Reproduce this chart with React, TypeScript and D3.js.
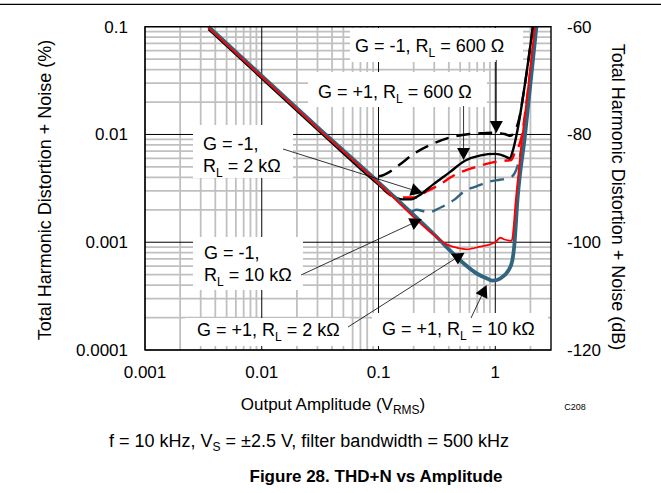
import React from "react";
import * as d3 from "d3";

// ---------- data ----------
const xTicks = [0.001, 0.01, 0.1, 1];
const xTickLabels = ["0.001", "0.01", "0.1", "1"];
const yTicks = [0.0001, 0.001, 0.01, 0.1];
const yTickLabels = ["0.0001", "0.001", "0.01", "0.1"];
const dbTicks = [-120, -100, -80, -60];
const dbTickLabels = ["-120", "-100", "-80", "-60"];

// G = +1, RL = 10 kΩ (solid blue)
const ampP1_10k = [0.0035, 0.01, 0.03, 0.1, 0.3, 0.5, 0.7, 0.85, 0.95, 1.1, 1.3, 1.4, 1.45, 1.55, 1.8, 2.25];
const thdP1_10k = [0.1, 0.035, 0.0117, 0.0036, 0.00118, 0.00068, 0.00051, 0.00046, 0.00044, 0.00046, 0.00055, 0.00068, 0.0009, 0.0025, 0.01, 0.1];

// G = +1, RL = 2 kΩ (solid red)
const ampP1_2k = [0.0035, 0.01, 0.03, 0.1, 0.3, 0.38, 0.45, 0.57, 0.74, 1.0, 1.1, 1.2, 1.37, 1.4, 1.5, 1.65, 1.85, 2.18];
const thdP1_2k = [0.098, 0.0343, 0.01147, 0.00353, 0.00116, 0.00096, 0.0009, 0.00086, 0.00091, 0.001, 0.0011, 0.00106, 0.00103, 0.00108, 0.0025, 0.007, 0.02, 0.1];

// G = +1, RL = 600 Ω (solid black)
const ampP1_600 = [0.0035, 0.01, 0.03, 0.1, 0.13, 0.16, 0.19, 0.22, 0.3, 0.4, 0.55, 0.75, 1.0, 1.2, 1.33, 1.42, 1.55, 1.8, 2.1];
const thdP1_600 = [0.095, 0.0332, 0.0111, 0.00342, 0.0027, 0.0025, 0.0025, 0.0027, 0.0035, 0.0044, 0.0057, 0.0064, 0.0066, 0.0063, 0.006, 0.0072, 0.011, 0.03, 0.1];

// G = -1, RL = 600 Ω (dashed black)
const ampM1_600 = [0.07, 0.09, 0.1, 0.12, 0.15, 0.2, 0.3, 0.4, 0.6, 0.8, 1.0, 1.2, 1.35, 1.45, 1.6, 1.8, 2.1];
const thdM1_600 = [0.005, 0.0041, 0.0041, 0.0044, 0.0052, 0.0066, 0.0083, 0.0093, 0.0101, 0.0103, 0.0104, 0.0101, 0.0097, 0.0105, 0.014, 0.03, 0.1];

// G = -1, RL = 2 kΩ (dashed red)
const ampM1_2k = [0.11, 0.13, 0.16, 0.21, 0.25, 0.33, 0.43, 0.57, 0.69, 0.95, 1.2, 1.37, 1.47, 1.66, 1.9, 2.2];
const thdM1_2k = [0.0031, 0.0027, 0.0026, 0.0026, 0.0029, 0.0034, 0.0041, 0.0047, 0.005, 0.0055, 0.0057, 0.0058, 0.0068, 0.009, 0.025, 0.1];

// G = -1, RL = 10 kΩ (dashed blue)
const ampM1_10k = [0.19, 0.21, 0.27, 0.34, 0.45, 0.55, 0.69, 0.89, 1.1, 1.24, 1.4, 1.5, 1.7, 2.0, 2.25];
const thdM1_10k = [0.0019, 0.002, 0.0019, 0.0021, 0.0025, 0.003, 0.0033, 0.00365, 0.0038, 0.0039, 0.0041, 0.0046, 0.008, 0.03, 0.1];

const BLUE = "#31657f";
const RED = "#ff0000";
const BLACK = "#000000";

const FONT = "Arial, 'Liberation Sans', Helvetica, sans-serif";

const W = 661;
const H = 493;
const PL = 145, PR = 551, PT = 26.7, PB = 350;

const x = d3.scaleLog().domain([0.001, 3]).range([PL, PR]);
const y = d3.scaleLog().domain([0.0001, 0.1]).range([PB, PT]);
const yDb = d3.scaleLinear().domain([-120, -60]).range([PB, PT]);

type Pt = [number, number];
const zip = (a: number[], b: number[]): Pt[] => a.map((v, i) => [v, b[i]]);

const line = d3
  .line<Pt>()
  .x((d) => x(d[0]))
  .y((d) => y(d[1]))
  .curve(d3.curveMonotoneX);

const series = [
  { data: zip(ampM1_600, thdM1_600), color: BLACK, width: 2.4, dash: "14,8" },
  { data: zip(ampM1_2k, thdM1_2k), color: RED, width: 2.4, dash: "14,8" },
  { data: zip(ampM1_10k, thdM1_10k), color: BLUE, width: 2.4, dash: "14,8" },
  { data: zip(ampP1_600, thdP1_600), color: BLACK, width: 2.4, dash: null },
  { data: zip(ampP1_10k, thdP1_10k), color: BLUE, width: 3.8, dash: null },
  { data: zip(ampP1_2k, thdP1_2k), color: RED, width: 1.8, dash: null },
];

// minor grid values
const decadesX = [0.001, 0.01, 0.1, 1];
const minorX: number[] = [];
decadesX.forEach((d) => {
  for (let k = 2; k <= 9; k++) {
    const v = d * k;
    if (v < 3) minorX.push(v);
  }
});
const decadesY = [0.0001, 0.001, 0.01];
const minorY: number[] = [];
decadesY.forEach((d) => {
  for (let k = 2; k <= 9; k++) minorY.push(d * k);
});

function Arrow({ x1, y1, tx, ty }: { x1: number; y1: number; tx: number; ty: number }) {
  const X = x(tx);
  const Y = y(ty);
  const dx = X - x1;
  const dy = Y - y1;
  const len = Math.hypot(dx, dy);
  const ux = dx / len, uy = dy / len;
  const L = 12, Wd = 6.5;
  const bx = X - ux * L, by = Y - uy * L;
  const p = [
    [X, Y],
    [bx - uy * Wd, by + ux * Wd],
    [bx + uy * Wd, by - ux * Wd],
  ];
  return (
    <g>
      <line x1={x1} y1={y1} x2={bx} y2={by} stroke="#000" strokeWidth={0.8} />
      <polygon points={p.map((q) => q.join(",")).join(" ")} fill="#000" />
    </g>
  );
}

function Label({ g, rl, px, py }: { g: string; rl: string; px: number; py: number }) {
  return (
    <text x={px} y={py} fontSize={18} fontFamily={FONT} fill="#000">
      {g}, R
      <tspan fontSize={12} dy={5}>L</tspan>
      <tspan dy={-5}> = {rl}</tspan>
    </text>
  );
}

function Label2({ g, rl, px, py }: { g: string; rl: string; px: number; py: number }) {
  return (
    <text x={px} y={py} fontSize={18} fontFamily={FONT} fill="#000">
      <tspan x={px}>{g},</tspan>
      <tspan x={px} dy={22}>R</tspan>
      <tspan fontSize={12} dy={5}>L</tspan>
      <tspan dy={-5}> = {rl}</tspan>
    </text>
  );
}

export default function App() {
  return (
    <svg
      width={W}
      height={H}
      viewBox={`0 0 ${W} ${H}`}
      style={{ position: "absolute", left: 0, top: 0, background: "#fff" }}
    >
      <rect x={0} y={0} width={W} height={H} fill="#fff" />
      <line x1={0} x2={W} y1={4.3} y2={4.3} stroke="#000" strokeWidth={1.3} />

      {/* minor grid */}
      {minorX.map((v, i) => (
        <line key={"mx" + i} x1={x(v)} x2={x(v)} y1={PT} y2={PB} stroke="#c0c0c0" strokeWidth={1.8} />
      ))}
      {minorY.map((v, i) => (
        <line key={"my" + i} x1={PL} x2={PR} y1={y(v)} y2={y(v)} stroke="#c0c0c0" strokeWidth={1.8} />
      ))}
      {/* major grid */}
      {xTicks.map((v, i) => (
        <line key={"Mx" + i} x1={x(v)} x2={x(v)} y1={PT} y2={PB} stroke="#000" strokeWidth={1} />
      ))}
      {yTicks.map((v, i) => (
        <line key={"My" + i} x1={PL} x2={PR} y1={y(v)} y2={y(v)} stroke="#000" strokeWidth={1} />
      ))}

      {/* label boxes (cover grid) */}
      <rect x={350} y={28} width={173} height={34} fill="#fff" />
      <rect x={308} y={72} width={179} height={35} fill="#fff" />
      <rect x={193} y={125} width={100} height={53} fill="#fff" />
      <rect x={193} y={237} width={110} height={53} fill="#fff" />
      <rect x={185} y={318} width={165} height={28} fill="#fff" />
      <rect x={372} y={313} width={176} height={33} fill="#fff" />

      {/* curves */}
      {series.map((s, i) => (
        <path
          key={"s" + i}
          d={line(s.data) || ""}
          fill="none"
          stroke={s.color}
          strokeWidth={s.width}
          strokeDasharray={s.dash || undefined}
          strokeLinejoin="round"
        />
      ))}

      {/* plot frame */}
      <rect x={PL} y={PT} width={PR - PL} height={PB - PT} fill="none" stroke="#000" strokeWidth={1.4} />

      {/* annotations */}
      <Label g="G = -1" rl="600 Ω" px={355} py={52} />
      <Arrow x1={x(1.02)} y1={60} tx={1.02} ty={0.0103} />
      <Label g="G = +1" rl="600 Ω" px={318} py={98} />
      <Arrow x1={x(0.535)} y1={106} tx={0.535} ty={0.0058} />
      <Label2 g="G = -1" rl="2 kΩ" px={203} py={150} />
      <Arrow x1={283} y1={149} tx={0.239} ty={0.00286} />
      <Label2 g="G = -1" rl="10 kΩ" px={204} py={259} />
      <Arrow x1={301} y1={275} tx={0.235} ty={0.00164} />
      <Label g="G = +1" rl="2 kΩ" px={197} py={336} />
      <Arrow x1={348} y1={327} tx={0.546} ty={0.0008} />
      <Label g="G = +1" rl="10 kΩ" px={382} py={335} />
      <Arrow x1={471} y1={318} tx={0.843} ty={0.0004} />

      {/* left ticks */}
      {yTicks.map((v, i) => (
        <text key={"yl" + i} x={128} y={y(v) + 6} textAnchor="end" fontSize={17} fontFamily={FONT}>
          {yTickLabels[i]}
        </text>
      ))}
      {/* right ticks */}
      {dbTicks.map((v, i) => (
        <text key={"dl" + i} x={567} y={yDb(v) + 6} textAnchor="start" fontSize={17} fontFamily={FONT}>
          {dbTickLabels[i]}
        </text>
      ))}
      {/* x ticks */}
      {xTicks.map((v, i) => (
        <text key={"xl" + i} x={x(v)} y={378} textAnchor="middle" fontSize={17} fontFamily={FONT}>
          {xTickLabels[i]}
        </text>
      ))}

      {/* axis titles */}
      <text
        transform="translate(51,190) rotate(-90)"
        textAnchor="middle"
        fontSize={18}
        fontFamily={FONT}
      >
        Total Harmonic Distortion + Noise (%)
      </text>
      <text
        transform="translate(612,197) rotate(90)"
        textAnchor="middle"
        fontSize={18}
        fontFamily={FONT}
      >
        Total Harmonic Distortion + Noise (dB)
      </text>
      <text x={333} y={410} textAnchor="middle" fontSize={17} fontFamily={FONT}>
        Output Amplitude (V<tspan fontSize={12} dy={4}>RMS</tspan>
        <tspan dy={-4}>)</tspan>
      </text>
      <text x={575} y={410} textAnchor="middle" fontSize={9} fontFamily={FONT}>
        C208
      </text>
      <text x={309} y={447} textAnchor="middle" fontSize={18} fontFamily={FONT}>
        f = 10 kHz, V<tspan fontSize={12} dy={4}>S</tspan>
        <tspan dy={-4}> = ±2.5 V, filter bandwidth = 500 kHz</tspan>
      </text>
      <text x={376} y={482} textAnchor="middle" fontSize={17} fontWeight="bold" fontFamily={FONT}>
        Figure 28. THD+N vs Amplitude
      </text>
    </svg>
  );
}
